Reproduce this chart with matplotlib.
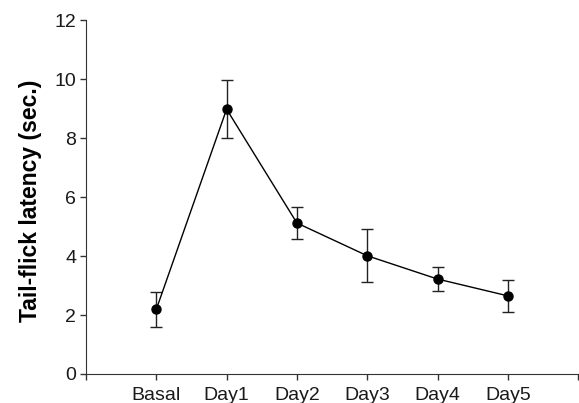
import matplotlib.pyplot as plt
import numpy as np

plt.rcParams['font.family'] = ['Liberation Sans', 'DejaVu Sans']

days = ["Basal", "Day1", "Day2", "Day3", "Day4", "Day5"]
latency = [2.19, 8.98, 5.12, 4.01, 3.22, 2.65]
sem = [0.6, 0.99, 0.55, 0.9, 0.42, 0.54]

fig = plt.figure(figsize=(5.79, 4.03), dpi=100)
ax = fig.add_axes([0.1485, 0.072, 0.85, 0.878])

x = np.arange(1, len(days) + 1)
ax.errorbar(x, latency, yerr=sem, fmt='-o', color='black', ecolor='#222222',
            lw=1.0, elinewidth=1.0, capsize=4.5, capthick=1.0,
            markersize=6.5, mfc='black', mec='black')

ax.set_xlim(0, 7)
ax.set_ylim(0, 12)
ax.set_yticks(range(0, 13, 2))
ax.set_xticks(range(0, 8))
ax.set_xticklabels([""] + days + [""])
ax.spines['top'].set_visible(False)
ax.spines['right'].set_visible(False)
for s in ('left', 'bottom'):
    ax.spines[s].set_color('#333333')
ax.tick_params(direction='out', length=4.5, width=1, labelsize=14, pad=2.5,
               color='#333333', labelcolor='#1a1a1a')
ax.tick_params(axis='x', pad=5)
ax.set_ylabel("Tail-flick latency (sec.)", fontsize=16.5, fontweight='bold',
              labelpad=9, y=0.49)

fig.savefig("out.png", dpi=100)
